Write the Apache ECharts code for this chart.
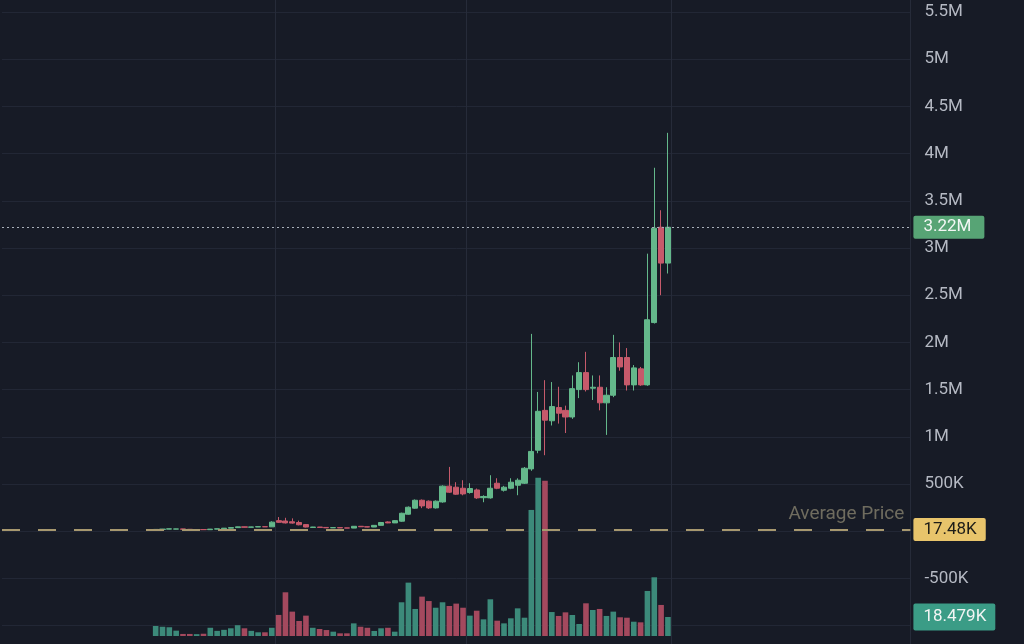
<!DOCTYPE html>
<html><head><meta charset="utf-8">
<script src="https://cdn.jsdelivr.net/npm/echarts@6/dist/echarts.min.js"></script>
<style>html,body{margin:0;padding:0;background:#171b26;}#c{width:1024px;height:644px;}</style>
</head><body><div id="c"></div>
<script>
// Prices in thousands (K); volumes in thousands (K)
const opens  = [15,19,22,22,24,20,17,18,16,22,25,32,38,46,42,45,48,46,112,108,100,92,70,40,44,40,36,38,35,33,52,47,44,62,98,88,
  106,180,244,328,318,247,310,477,466,455,410,437,355,353,508,434,455,487,508,660,858,1280,1170,1310,1280,1210,1500,1680,1515,1525,1360,1440,1840,1840,1550,1720,1550,2210,3220,2840];
const closes = [19,22,25,24,20,17,18,16,22,25,32,38,46,42,45,48,46,96,94,88,86,68,44,44,40,36,38,35,33,52,47,44,62,92,88,112,
  190,254,328,268,247,318,477,413,392,395,452,353,368,455,455,466,519,540,667,845,1270,1176,1320,1250,1210,1510,1680,1500,1525,1360,1440,1840,1740,1550,1730,1550,2240,3210,2840,3220];
const lows   = [13,17,20,20,19,16,16,15,15,21,24,30,36,40,41,44,45,45,88,82,80,62,40,38,38,35,35,34,32,32,45,42,43,60,85,86,
  100,175,238,244,236,240,302,405,385,380,398,342,307,345,445,420,445,381,500,640,826,805,1120,1140,1040,1190,1410,1480,1390,1280,1020,1420,1700,1490,1490,1540,1540,2200,2500,2730];
const highs  = [22,24,27,26,25,21,19,19,24,27,34,40,48,48,47,50,49,105,150,142,136,112,76,46,45,41,40,39,36,55,54,49,65,98,104,118,
  196,262,336,336,326,326,486,681,519,540,508,452,380,593,561,480,561,560,680,2090,1475,1600,1580,1530,1330,1650,1790,1900,1650,1650,1525,2080,2000,1940,1760,1740,2940,3850,3400,4220];
const volumes = [9.7,9.0,8.5,5.2,2.0,2.0,1.8,2.2,8.0,5.0,6.0,7.5,10.5,7.5,5.0,3.6,3.6,8.0,20.5,42.5,23.7,14.6,19.8,8.0,6.8,5.8,4.2,2.6,2.6,12.3,9.0,8.0,4.9,7.5,8.0,4.2,
  32.8,51.9,26.3,38.3,34.0,27.5,32.8,29.2,31.5,27.5,19.8,24.6,16.2,35.7,14.9,12.3,17.2,26.9,17.8,122.6,154.0,151.0,23.3,19.5,23.0,20.4,11.7,31.8,25.3,26.3,19.5,23.7,18.2,17.8,13.9,13.3,43.8,57.1,30.2,18.479];
const lastPrice = 3220;
const avgPrice = 17.48;
const lastVolume = 18.479;
const avgLabel = 'Average Price';
const priceMin = -1000, priceMax = 5500, priceStep = 500;

const LEAD = 22, TRAIL = 35;
const N = LEAD + opens.length + TRAIL;
const BAND = 6.83;
const GRID_LEFT = 2;
const GRID_W = N * BAND;
const PX_PER_M = 94.4;
const PRICE_TOP = 12;
const PX_PER_VK = 19 / 18.479;
const VGRID = [40, 68, 98];

const UP = '#64b88b', DOWN = '#c65a6b';
const VOL_UP = '#3c8a7a', VOL_DOWN = '#a4495e';
const FONT = 'Roboto';
const NOLINE = 'rgba(0,0,0,0)';

function fmt(v) {
  if (Math.abs(v) >= 1000) return (+(v / 1000).toFixed(3)) + 'M';
  if (v === 0) return '0';
  return (+v.toFixed(3)) + 'K';
}

const cats = [], candleData = [], volData = [];
for (let i = 0; i < N; i++) {
  cats.push(String(i));
  const k = i - LEAD;
  if (k < 0 || k >= opens.length) { candleData.push('-'); volData.push('-'); continue; }
  candleData.push([opens[k], closes[k], lows[k], highs[k]]);
  volData.push({ value: volumes[k], itemStyle: { color: closes[k] >= opens[k] ? VOL_UP : VOL_DOWN } });
}

const chart = echarts.init(document.getElementById('c'));
const hidden = { axisLine: { show: false }, axisTick: { show: false }, axisLabel: { show: false } };
const boxLabel = { show: true, position: 'end', distance: 3, borderRadius: 2, fontSize: 17, fontFamily: FONT, lineHeight: 19 };
chart.setOption({
  backgroundColor: '#171b26',
  animation: false,
  grid: [
    { left: GRID_LEFT, top: PRICE_TOP, width: GRID_W, height: (priceMax - priceMin) / 1000 * PX_PER_M },
    { left: GRID_LEFT, top: 0, width: GRID_W, height: 644 }
  ],
  xAxis: [
    Object.assign({ type: 'category', gridIndex: 0, data: cats, boundaryGap: true, splitLine: { show: false } }, hidden),
    Object.assign({ type: 'category', gridIndex: 1, data: cats, boundaryGap: true,
      splitLine: { show: true, interval: (i) => VGRID.indexOf(i) >= 0, lineStyle: { color: '#262b39', width: 1 } } }, hidden)
  ],
  yAxis: [
    { type: 'value', gridIndex: 0, position: 'right', min: priceMin, max: priceMax, interval: priceStep,
      axisLine: { show: false }, axisTick: { show: false },
      splitLine: { show: true, lineStyle: { color: '#222735', width: 1 } },
      axisLabel: { color: '#b5b9c3', fontSize: 17, fontFamily: FONT, margin: 14, formatter: (v) => fmt(v) } },
    { type: 'value', gridIndex: 1, min: -8 / PX_PER_VK, max: 636 / PX_PER_VK, show: false, splitLine: { show: false } }
  ],
  series: [
    { type: 'bar', xAxisIndex: 1, yAxisIndex: 1, data: volData, barWidth: '82%', z: 1,
      markLine: { symbol: 'none', silent: true, animation: false, z: 10,
        data: [{ yAxis: lastVolume, lineStyle: { color: NOLINE, width: 1 },
          label: Object.assign({}, boxLabel, { formatter: fmt(lastVolume), backgroundColor: '#3b9c86', color: '#f2f5f4', padding: [4, 9, 4, 10] }) }] } },
    { type: 'candlestick', xAxisIndex: 0, yAxisIndex: 0, data: candleData, barWidth: '82%', z: 3,
      itemStyle: { color: UP, color0: DOWN, borderColor: UP, borderColor0: DOWN, borderWidth: 1 },
      markLine: { symbol: 'none', silent: true, animation: false,
        data: [
          { yAxis: lastPrice, lineStyle: { type: [2, 3], color: '#aab1bb', width: 1 },
            label: Object.assign({}, boxLabel, { formatter: fmt(lastPrice), backgroundColor: '#57a475', color: '#f4f7f5', padding: [2, 13, 2, 10] }) },
          { yAxis: avgPrice, lineStyle: { type: [18, 18], color: '#a7986f', width: 2 },
            label: Object.assign({}, boxLabel, { formatter: fmt(avgPrice), backgroundColor: '#e8c46b', color: '#1d1c18', padding: [2, 9, 2, 10] }) },
          { yAxis: avgPrice, lineStyle: { color: NOLINE, width: 1 },
            label: { show: true, position: 'insideEndTop', distance: 6, formatter: avgLabel, color: '#6f6c5f',
              fontSize: 19, fontFamily: FONT } }
        ] } }
  ]
});
</script></body></html>
